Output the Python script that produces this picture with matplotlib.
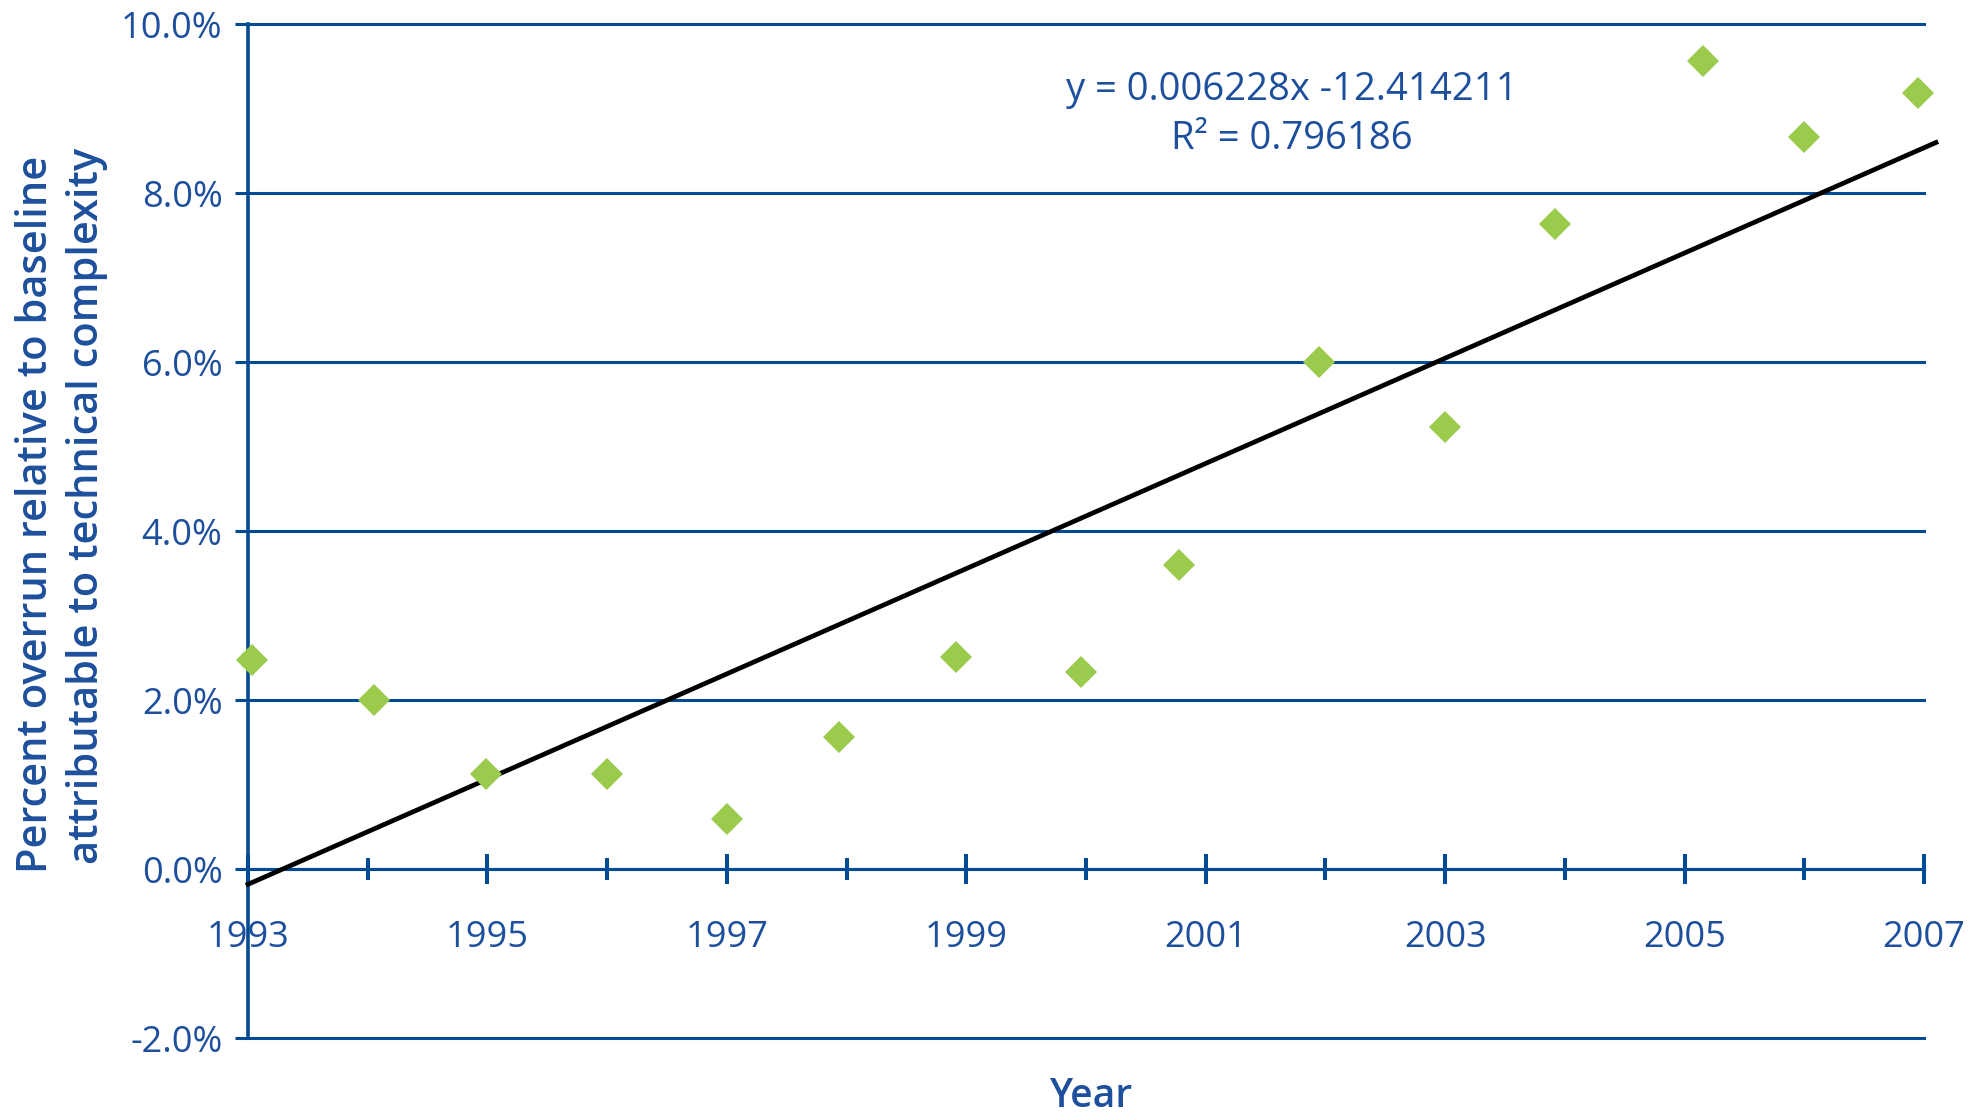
import matplotlib
matplotlib.use("Agg")
import matplotlib.pyplot as plt
from matplotlib.ticker import FixedLocator, FuncFormatter

# ---- data ----
years = [1993.03, 1994.05, 1994.99, 1996.00, 1997.00, 1997.94, 1998.91, 1999.96,
         2000.78, 2001.95, 2003.00, 2003.92, 2005.15, 2006.00, 2006.95]
overrun_pct = [2.48, 2.00, 1.12, 1.12, 0.59, 1.56, 2.51, 2.33,
               3.60, 6.00, 5.23, 7.64, 9.57, 8.67, 9.19]
trend_slope = 0.006228
trend_intercept = -12.414211
trend_r2 = 0.796186
trend_x = [1993.0, 2007.1]
y_ticks = [-2, 0, 2, 4, 6, 8, 10]
x_major = [1993, 1995, 1997, 1999, 2001, 2003, 2005, 2007]
x_minor = [1994, 1996, 1998, 2000, 2002, 2004, 2006]
ylabel_lines = ["Percent overrun relative to baseline",
                "attributable to technical complexity"]
xlabel = "Year"

# ---- style ----
W, H, DPI = 1979, 1120, 100
blue = "#004B93"
tblue = "#1D4F9C"
green = "#9ACB4C"
font = ["Open Sans", "DejaVu Sans"]
plt.rcParams['font.family'] = font

fig = plt.figure(figsize=(W / DPI, H / DPI), dpi=DPI)
ax = fig.add_axes([248 / W, 1 - 1038 / H, (1924 - 248) / W, (1038 - 24.3) / H])

ax.set_xlim(1993, 2007)
ax.set_ylim(-2, 10)

# grid lines
for v in y_ticks:
    ax.axhline(v, color=blue, lw=2.2, zorder=1, clip_on=False)

# spines
for s in ["top", "right"]:
    ax.spines[s].set_visible(False)
ax.spines["left"].set_color(blue)
ax.spines["left"].set_linewidth(2.6)
ax.spines["bottom"].set_position(("data", 0))
ax.spines["bottom"].set_color(blue)
ax.spines["bottom"].set_linewidth(2.2)

ax.yaxis.set_major_locator(FixedLocator(y_ticks))
ax.yaxis.set_major_formatter(FuncFormatter(lambda v, p: f"{v:.1f}%"))
ax.tick_params(axis="y", direction="out", length=9.4, width=2.2, color=blue,
               labelsize=26, labelcolor=tblue, pad=9)

ax.xaxis.set_major_locator(FixedLocator(x_major))
ax.xaxis.set_minor_locator(FixedLocator(x_minor))
ax.xaxis.set_major_formatter(FuncFormatter(lambda v, p: f"{int(round(v))}"))
ax.tick_params(axis="x", which="major", direction="inout", length=21, width=2.9,
               color=blue, labelsize=26, labelcolor=tblue, pad=26)
ax.tick_params(axis="x", which="minor", direction="inout", length=16, width=2.9,
               color=blue)

# data
ax.plot(years, overrun_pct, linestyle="none", marker="D", markersize=16,
        color=green, markeredgewidth=0, zorder=4, clip_on=False)
trend_y = [(trend_slope * x + trend_intercept) * 100 for x in trend_x]
ax.plot(trend_x, trend_y, color="black", lw=3.4, zorder=3, clip_on=False)

# equation
ax.text(1292 / W, 1 - 90 / H, f"y = {trend_slope:.6f}x -{abs(trend_intercept):.6f}",
        transform=fig.transFigure, ha="center", va="center", fontsize=27.5, color=tblue)
ax.text(1292 / W, 1 - 139 / H, f"R\u00b2 = {trend_r2:.6f}",
        transform=fig.transFigure, ha="center", va="center", fontsize=27.5, color=tblue)

# axis labels
fig.text(36 / W, 1 - 514 / H, ylabel_lines[0], rotation=90, ha="center", va="center",
         fontsize=30, color=tblue, fontweight="semibold")
fig.text(87 / W, 1 - 506 / H, ylabel_lines[1], rotation=90, ha="center", va="center",
         fontsize=30, color=tblue, fontweight="semibold")
fig.text(1092 / W, 3 / H, xlabel, ha="center", va="bottom",
         fontsize=28, color=tblue, fontweight="semibold")

fig.savefig("out.png", dpi=DPI)
